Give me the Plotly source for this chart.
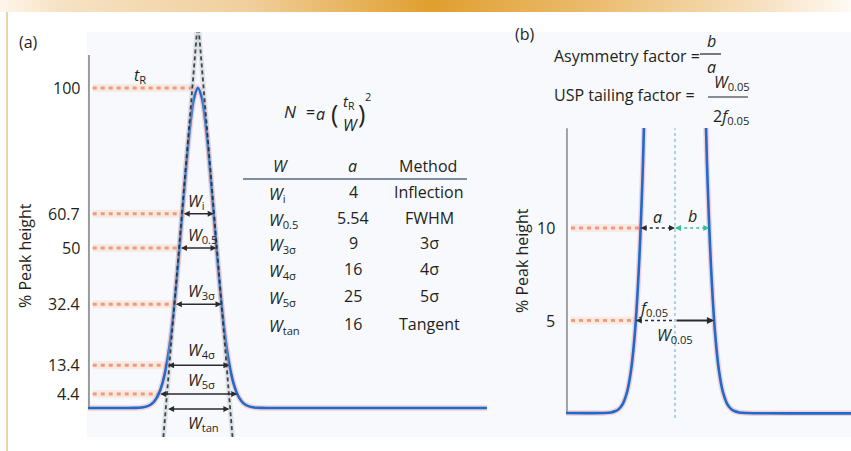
import plotly.graph_objects as go

# ---------------- data ----------------
# retention time scale (sigma units), peak at t_R = 7
peak_t = [0.0, 2.5, 3.0, 3.25, 3.5, 3.75, 4.0, 4.25, 4.5, 4.75,
          5.0, 5.25, 5.5, 5.75, 6.0, 6.25, 6.5, 6.75, 7.0,
          7.25, 7.5, 7.75, 8.0, 8.25, 8.5, 8.75, 9.0,
          9.25, 9.5, 9.75, 10.0, 10.25, 10.5, 10.75, 11.0, 11.5, 25.4]
peak_h = [0.0, 0.0, 0.03, 0.09, 0.22, 0.51, 1.11, 2.28, 4.39, 7.95,
          13.5, 21.6, 32.5, 45.8, 60.7, 75.5, 88.2, 96.9, 100.0,
          96.9, 88.2, 75.5, 60.7, 45.8, 32.5, 21.6, 13.5,
          7.95, 4.39, 2.28, 1.11, 0.51, 0.22, 0.09, 0.03, 0.0, 0.0]
t_R = 7.0

# panel (a) levels and widths
levels_a = [100, 60.7, 50, 32.4, 13.4, 4.4]
level_labels_a = ["100", "60.7", "50", "32.4", "13.4", "4.4"]
width_levels = [60.7, 50, 32.4, 13.4, 4.4]
width_left = [6.0, 5.82, 5.5, 5.0, 4.5]
width_right = [8.0, 8.18, 8.5, 9.0, 9.5]
width_names = ["i", "0.5", "3σ", "4σ", "5σ"]
tan_level = -0.3
tan_left, tan_right = 5.0, 9.0
# tangent lines (through inflection points), apex above the plot
tanL_t = [4.8, 7.0]
tanR_t = [9.2, 7.0]
tan_h = [-9.1, 121.3]

# table
tab_W = ["i", "0.5", "3σ", "4σ", "5σ", "tan"]
tab_a = ["4", "5.54", "9", "16", "25", "16"]
tab_method = ["Inflection", "FWHM", "3σ", "4σ", "5σ", "Tangent"]

# panel (b)
levels_b = [10, 5]
level_labels_b = ["10", "5"]
b_left10, b_right10 = 4.854, 9.146
b_left5, b_right5 = 4.552, 9.448

# ---------------- layout helpers ----------------
W, H = 851, 451
FONT = "Open Sans, Noto Sans, sans-serif"
INK = "#231f20"


def P(x):
    return x / W


def Q(y):
    return 1 - y / H


def txt(x, y, s, size=16, xa="center", ya="middle", color=INK, angle=0):
    return dict(x=P(x), y=Q(y), xref="paper", yref="paper", text=s, showarrow=False,
                font=dict(family=FONT, size=size, color=color), xanchor=xa, yanchor=ya,
                textangle=angle)


def arrow(x0, x1, y, xr, yr, color="#2b2b2b", both=True, width=1.5):
    return dict(x=x1, y=y, ax=x0, ay=y, xref=xr, yref=yr, axref=xr, ayref=yr, text="",
                showarrow=True, arrowhead=2, arrowsize=0.8, arrowwidth=width, arrowcolor=color,
                arrowside="end+start" if both else "end", startarrowhead=2, startarrowsize=0.8,
                standoff=0, startstandoff=0)


fig = go.Figure()

ORANGE = "rgba(244,128,86,0.78)"
GLOW = "rgba(248,180,150,0.22)"

# ---------- panel (a) ----------
fig.add_trace(go.Scatter(x=[0.06, 0.06], y=[0, 110.3], mode="lines",
                         line=dict(color="#9a9a9a", width=2), xaxis="x", yaxis="y"))
for lvl, xe in zip(levels_a, [t_R] + width_left):
    fig.add_trace(go.Scatter(x=[0.3, xe], y=[lvl, lvl], mode="lines",
                             line=dict(color=GLOW, width=8), xaxis="x", yaxis="y"))
    fig.add_trace(go.Scatter(x=[0.3, xe], y=[lvl, lvl], mode="lines",
                             line=dict(color=ORANGE, width=3, dash="4px,4px"), xaxis="x", yaxis="y"))
fig.add_trace(go.Scatter(x=peak_t, y=peak_h, mode="lines",
                         line=dict(color="rgba(236,130,150,0.35)", width=5.5, shape="spline"),
                         xaxis="x", yaxis="y"))
fig.add_trace(go.Scatter(x=peak_t, y=peak_h, mode="lines",
                         line=dict(color="#1d6bcb", width=2.6, shape="spline"),
                         xaxis="x", yaxis="y"))
for tt in (tanL_t, tanR_t):
    fig.add_trace(go.Scatter(x=tt, y=tan_h, mode="lines",
                             line=dict(color="rgba(170,185,200,0.35)", width=5), xaxis="x", yaxis="y"))
    fig.add_trace(go.Scatter(x=tt, y=tan_h, mode="lines",
                             line=dict(color="rgba(40,40,40,0.85)", width=1.8, dash="4px,3px"),
                             xaxis="x", yaxis="y"))

# ---------- panel (b) ----------
fig.add_trace(go.Scatter(x=[0.25, 0.25], y=[0, 15.4], mode="lines",
                         line=dict(color="#8c8c8c", width=1.6), xaxis="x2", yaxis="y2"))
for lvl, xe in zip(levels_b, [b_left10, b_left5]):
    fig.add_trace(go.Scatter(x=[0.5, xe], y=[lvl, lvl], mode="lines",
                             line=dict(color=GLOW, width=8), xaxis="x2", yaxis="y2"))
    fig.add_trace(go.Scatter(x=[0.5, xe], y=[lvl, lvl], mode="lines",
                             line=dict(color=ORANGE, width=3, dash="4px,4px"), xaxis="x2", yaxis="y2"))
fig.add_trace(go.Scatter(x=[t_R, t_R], y=[-0.27, 15.4], mode="lines",
                         line=dict(color="rgba(160,205,232,0.9)", width=2, dash="dot"),
                         xaxis="x2", yaxis="y2"))
fig.add_trace(go.Scatter(x=peak_t, y=peak_h, mode="lines",
                         line=dict(color="rgba(236,130,150,0.35)", width=5.5, shape="spline"),
                         xaxis="x2", yaxis="y2"))
fig.add_trace(go.Scatter(x=peak_t, y=peak_h, mode="lines",
                         line=dict(color="#1d6bcb", width=2.6, shape="spline"),
                         xaxis="x2", yaxis="y2"))
fig.add_trace(go.Scatter(x=[b_left10 + 0.2, t_R - 0.2], y=[10, 10], mode="lines",
                         line=dict(color="#2b2b2b", width=1.6, dash="3px,3px"), xaxis="x2", yaxis="y2"))
fig.add_trace(go.Scatter(x=[t_R + 0.2, b_right10 - 0.2], y=[10, 10], mode="lines",
                         line=dict(color="#33c28c", width=1.6, dash="3px,3px"), xaxis="x2", yaxis="y2"))
fig.add_trace(go.Scatter(x=[b_left5 + 0.2, t_R], y=[5, 5], mode="lines",
                         line=dict(color="#2b2b2b", width=1.6, dash="3px,3px"), xaxis="x2", yaxis="y2"))

annotations = []
annotations.append(txt(17, 42, "(a)", 16, xa="left"))
annotations.append(txt(513, 34, "(b)", 16, xa="left"))
annotations.append(txt(25, 256, "% Peak height", 16, angle=-90))
annotations.append(txt(522, 261, "% Peak height", 16, angle=-90))
for lvl, lab in zip(levels_a, level_labels_a):
    annotations.append(dict(x=P(82), y=lvl, xref="paper", yref="y", text=lab, showarrow=False,
                            font=dict(family=FONT, size=16, color=INK), xanchor="right", yanchor="middle"))
for lvl, lab in zip(levels_b, level_labels_b):
    annotations.append(dict(x=P(557), y=lvl, xref="paper", yref="y2", text=lab, showarrow=False,
                            font=dict(family=FONT, size=16, color=INK), xanchor="right", yanchor="middle"))
annotations.append(txt(132, 76, "<i>t</i><sub>R</sub>", 16, xa="left"))
for lvl, l, r in zip(width_levels, width_left, width_right):
    annotations.append(arrow(l, r, lvl, "x", "y"))
annotations.append(arrow(tan_left, tan_right, tan_level, "x", "y"))
wlab_y = [201, 235, 291, 350, 380]
for name, yy in zip(width_names, wlab_y):
    annotations.append(txt(186, yy, "<i>W</i><sub>" + name + "</sub>", 16, xa="left"))
annotations.append(txt(186, 423, "<i>W</i><sub>tan</sub>", 16, xa="left"))

# equation N = a (tR/W)^2
annotations.append(txt(290, 112, "<i>N</i>", 17))
annotations.append(txt(310, 112, "=", 16))
annotations.append(txt(320, 114, "<i>a</i>", 16))
annotations.append(txt(334, 113, "(", 25))
annotations.append(txt(341, 115, "<i>t</i><sub>R</sub>", 15, xa="left", ya="bottom"))
annotations.append(txt(350, 112, "<i>W</i>", 16, ya="top"))
annotations.append(txt(361, 113, ")", 25))
annotations.append(txt(368, 96, "2", 11))

# table
annotations.append(txt(280, 166, "<i>W</i>", 16))
annotations.append(txt(352, 166, "<i>a</i>", 16))
annotations.append(txt(428, 166, "Method", 16))
row_y = [194, 220, 245, 271, 298, 326]
for w_, a_, m_, yy in zip(tab_W, tab_a, tab_method, row_y):
    annotations.append(txt(267, yy, "<i>W</i><sub>" + w_ + "</sub>", 16, xa="left"))
    annotations.append(txt(353, yy - 2, a_, 16))
    annotations.append(txt(429, yy - 2, m_, 16))

# panel (b) formulas
annotations.append(txt(552, 56, "Asymmetry factor =", 16, xa="left"))
annotations.append(txt(711, 41, "<i>b</i>", 16))
annotations.append(txt(711, 67, "<i>a</i>", 16))
annotations.append(txt(552, 95, "USP tailing factor =", 16, xa="left"))
annotations.append(txt(712, 82, "<i>W</i><sub>0.05</sub>", 16, xa="left"))
annotations.append(txt(711, 116, "2<i>f</i><sub>0.05</sub>", 16, xa="left"))

annotations.append(arrow(b_left10 + 0.35, b_left10, 10, "x2", "y2", both=False))
annotations.append(arrow(t_R - 0.35, t_R, 10, "x2", "y2", both=False))
annotations.append(arrow(t_R + 0.35, t_R, 10, "x2", "y2", color="#33c28c", both=False))
annotations.append(arrow(b_right10 - 0.35, b_right10, 10, "x2", "y2", color="#33c28c", both=False))
annotations.append(arrow(b_left5 + 0.35, b_left5, 5, "x2", "y2", both=False))
annotations.append(arrow(t_R, b_right5, 5, "x2", "y2", both=False, width=1.8))
annotations.append(txt(657, 217, "<i>a</i>", 16))
annotations.append(txt(692, 216, "<i>b</i>", 16))
annotations.append(txt(637, 308, "<i>f</i><sub>0.05</sub>", 16, xa="left"))
annotations.append(txt(655, 335, "<i>W</i><sub>0.05</sub>", 16, xa="left"))

# ---------------- shapes (decoration) ----------------
shapes = []
stops = [(0, (253, 246, 236)), (60, (246, 226, 196)), (250, (240, 207, 156)), (430, (223, 159, 46)),
         (600, (235, 189, 114)), (760, (246, 225, 192)), (851, (254, 250, 244))]


def band_color(x):
    for (x0, c0), (x1, c1) in zip(stops[:-1], stops[1:]):
        if x0 <= x <= x1:
            f = (x - x0) / (x1 - x0)
            return "rgb(%d,%d,%d)" % tuple(round(a + (b - a) * f) for a, b in zip(c0, c1))
    return "rgb(254,250,244)"


step = 8
for xs in range(0, 851, step):
    shapes.append(dict(type="rect", xref="paper", yref="paper", x0=P(xs), x1=P(min(xs + step + 1, 851)),
                       y0=Q(12), y1=1, line=dict(width=0), fillcolor=band_color(xs + step / 2), layer="below"))
shapes.append(dict(type="line", xref="paper", yref="paper", x0=P(7), x1=P(7), y0=Q(12), y1=0,
                   line=dict(color="#e9c48a", width=1.5), layer="below"))
shapes.append(dict(type="rect", xref="paper", yref="paper", x0=P(87), x1=1, y0=Q(437), y1=Q(32),
                   line=dict(width=0), fillcolor="#f8f9fc", layer="below"))
shapes.append(dict(type="line", xref="paper", yref="paper", x0=P(243), x1=P(467), y0=Q(179), y1=Q(179),
                   line=dict(color="#7d8ea0", width=2)))
shapes.append(dict(type="line", xref="paper", yref="paper", x0=P(700), x1=P(721), y0=Q(54), y1=Q(54),
                   line=dict(color=INK, width=1.2)))
shapes.append(dict(type="line", xref="paper", yref="paper", x0=P(708), x1=P(748), y0=Q(97), y1=Q(97),
                   line=dict(color=INK, width=1.2)))

ax_off = dict(visible=False, fixedrange=True)
fig.update_layout(
    width=W, height=H, margin=dict(l=0, r=0, t=0, b=0),
    paper_bgcolor="white", plot_bgcolor="rgba(0,0,0,0)", showlegend=False,
    xaxis=dict(domain=[P(88), P(487)], range=[0, 25.4], **ax_off),
    yaxis=dict(domain=[Q(437), Q(32)], range=[-9.06, 117.5], **ax_off),
    xaxis2=dict(domain=[P(566), 1.0], range=[0.19, 18.0], anchor="y2", **ax_off),
    yaxis2=dict(domain=[Q(437), Q(128)], range=[-1.30, 15.41], anchor="x2", **ax_off),
    annotations=annotations, shapes=shapes,
    font=dict(family=FONT, color=INK),
)

fig.write_html("out.html", config={"displayModeBar": False, "staticPlot": True},
               post_script="document.body.style.margin='0';")
